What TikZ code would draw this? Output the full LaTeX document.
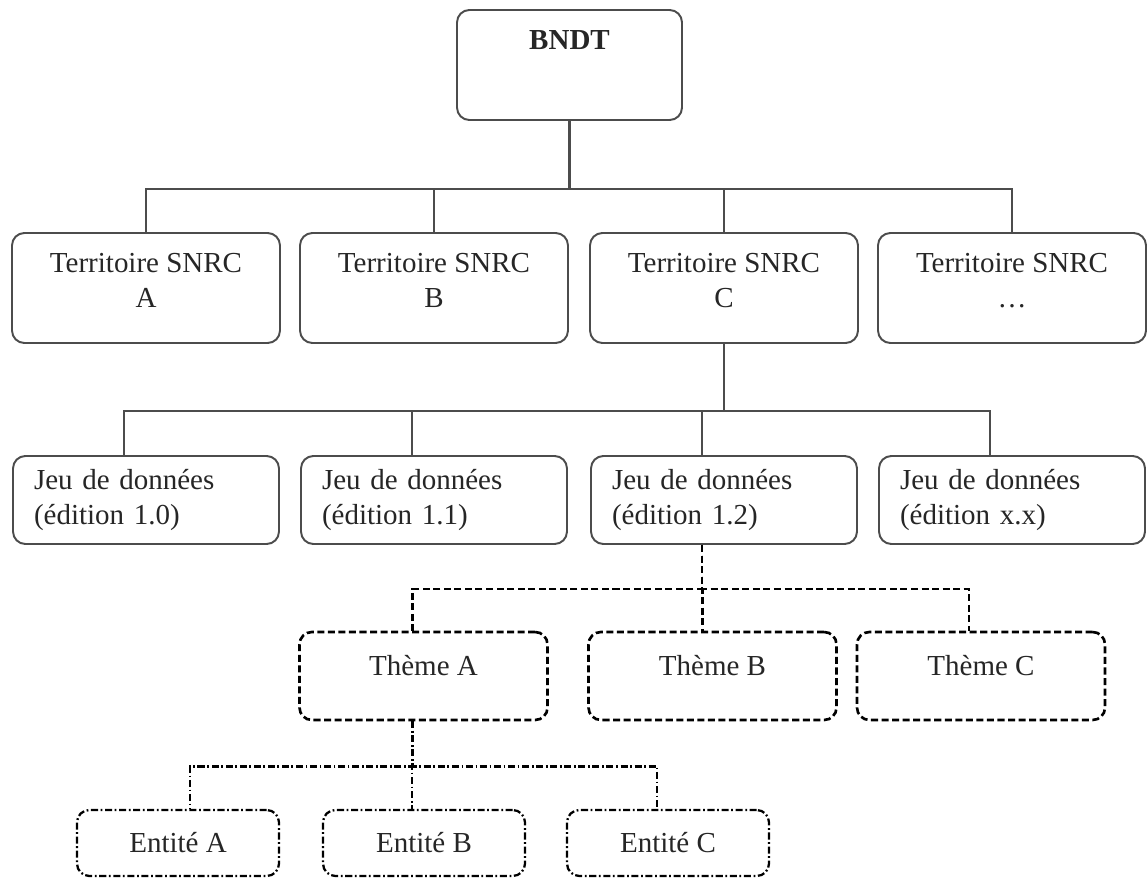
\documentclass[tikz,border=0pt]{standalone}
\usepackage{fontspec}
\setmainfont{Liberation Serif}
\usetikzlibrary{calc}
\tikzset{
  box/.style={draw=black!70, line width=1.1pt, rounded corners=7pt, fill=white,
    text=black!85, font=\fontsize{16.5}{19.8}\selectfont, inner sep=0pt},
  rootbox/.style={box, minimum width=4.5cm, minimum height=2.2cm, text depth=1cm},
  terrbox/.style={box, minimum width=5.36cm, minimum height=2.2cm, align=center, text depth=0.29cm},
  jeubox/.style={box, text width=4.48cm, inner xsep=0.42cm, minimum height=1.76cm, align=left},
  themebox/.style={box, draw=black, line width=1.5pt, dash pattern=on 4pt off 2pt,
    minimum width=4.96cm, minimum height=1.76cm, text height=0.37cm, text depth=0.4cm},
  entbox/.style={box, draw=black, line width=1.3pt, dash pattern=on 4pt off 1.5pt on 1pt off 1.5pt,
    minimum width=4.04cm, minimum height=1.32cm},
  tree/.style={draw=black!70, line width=1.2pt},
  themeline/.style={draw=black, line width=1.6pt, dash pattern=on 4pt off 2pt},
  entline/.style={draw=black, line width=1.4pt, dash pattern=on 4pt off 1.5pt on 1pt off 1.5pt}
}
\begin{document}
\begin{tikzpicture}[x=0.02cm, y=-0.02cm]
			%%%%% START %%%%%
			\useasboundingbox (0,0) rectangle (1147,879);
			
			\node[rootbox] (bndt) at (569.5,65) {\textbf{BNDT}};
			
			\node[terrbox] (tA) at (146,288) {Territoire SNRC\\A};
			\node[terrbox] (tB) at (434,288) {Territoire SNRC\\B};
			\node[terrbox] (tC) at (724,288) {Territoire SNRC\\C};
			\node[terrbox] (tD) at (1012,288) {Territoire SNRC\\\ldots};
			
			\node[jeubox] (jA) at (146,500) {Jeu de données\\(édition 1.0)};
			\node[jeubox] (jB) at (434,500) {Jeu de données\\(édition 1.1)};
			\node[jeubox] (jC) at (724,500) {Jeu de données\\(édition 1.2)};
			\node[jeubox] (jD) at (1012,500) {Jeu de données\\(édition x.x)};
			
			\node[themebox] (thA) at (423.5,676) {Thème A};
			\node[themebox] (thB) at (712.5,676) {Thème B};
			\node[themebox] (thC) at (981,676) {Thème C};
			
			\node[entbox] (eA) at (178,843) {Entité A};
			\node[entbox] (eB) at (424,843) {Entité B};
			\node[entbox] (eC) at (668,843) {Entité C};
			
			% BNDT -> territoires
			\foreach \t in {tA,tB,tC,tD}
				\draw[tree] (bndt.south) -- ++(0,68) -| (\t.north);
			
			% territoire C -> jeux de donnees
			\foreach \j in {jA,jB,jC,jD}
				\draw[tree] (tC.south) -- ++(0,67) -| ($(\j.north)+(-22,0)$);
			
			% jeu 1.2 -> themes
			\foreach \th/\dx in {thA/-11,thB/-10,thC/-12}
				\draw[themeline] ($(jC.south)+(-22,0)$) -- ++(0,44) -| ($(\th.north)+(\dx,0)$);
			
			% theme A -> entites
			\foreach \e/\dx in {eA/12,eB/-12,eC/-11}
				\draw[entline] ($(thA.south)+(-11,0)$) -- ++(0,45) -| ($(\e.north)+(\dx,0)$);
			
			%%%%% END %%%%%
\end{tikzpicture}
\end{document}
